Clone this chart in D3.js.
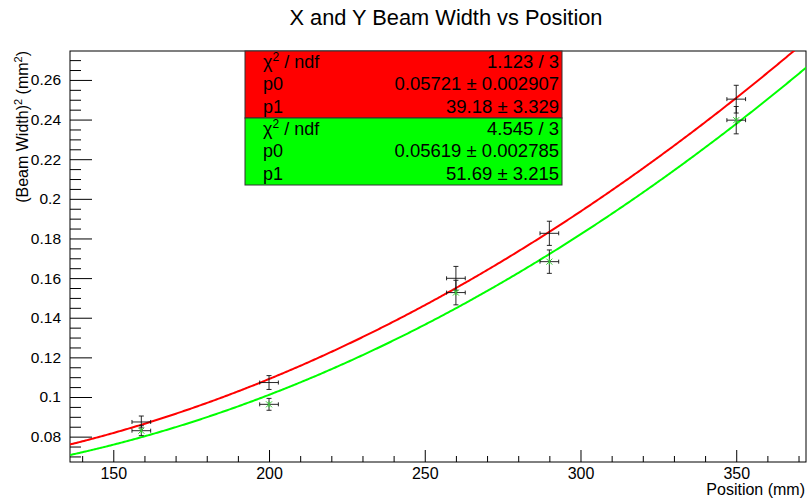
<!DOCTYPE html>
<html>
<head>
<meta charset="utf-8">
<script src="https://cdn.jsdelivr.net/npm/d3@7/dist/d3.min.js"></script>
<style>
  html, body { margin: 0; padding: 0; background: #fff; }
  svg { display: block; font-family: "Liberation Sans", Arial, Helvetica, sans-serif; }
</style>
</head>
<body>
<svg id="chart" width="808" height="504"></svg>
<script>
// Measured beam width squared (mm^2) at each position (mm), X and Y planes
const positions = [159, 200, 260, 290, 350];
const posErr = [3, 3, 3, 3, 3];
const widthSqX = [0.0874, 0.1073, 0.1599, 0.1826, 0.2503];
const widthSqXErr = [0.0030, 0.0035, 0.0060, 0.0061, 0.0070];
const widthSqY = [0.0830, 0.0963, 0.1527, 0.1683, 0.2397];
const widthSqYErr = [0.0025, 0.0030, 0.0062, 0.0059, 0.0069];

// Gaussian beam fit results: p0 = w0^2, p1 = waist position
const fitNames = ["X", "Y"];
const fitP0 = [0.05721, 0.05619];
const fitP0Err = [0.002907, 0.002785];
const fitP1 = [39.18, 51.69];
const fitP1Err = [3.329, 3.215];
const fitChi2 = [1.123, 4.545];
const fitNdf = [3, 3];
const wavelength = 1.064e-3; // mm

// Axis ticks
const xTicks = [150, 200, 250, 300, 350];
const yTicks = [0.08, 0.1, 0.12, 0.14, 0.16, 0.18, 0.2, 0.22, 0.24, 0.26];
const xDomain = [136.1, 372.4];
const yDomain = [0.0672, 0.2746];

const colors = ["#ff0000", "#00ff00"];

const svg = d3.select("#chart");
const frame = { left: 70, right: 806, top: 51, bottom: 462 };

const x = d3.scaleLinear().domain(xDomain).range([frame.left, frame.right]);
const y = d3.scaleLinear().domain(yDomain).range([frame.bottom, frame.top]);

// Title
svg.append("text")
  .attr("x", 446).attr("y", 25)
  .attr("text-anchor", "middle")
  .attr("font-size", 21.8)
  .text("X and Y Beam Width vs Position");

// Frame
svg.append("rect")
  .attr("x", frame.left).attr("y", frame.top)
  .attr("width", frame.right - frame.left)
  .attr("height", frame.bottom - frame.top)
  .attr("fill", "none").attr("stroke", "#000").attr("stroke-width", 1);

// Y axis: majors, minors
const yMinor = d3.range(13, 56).map(i => +(i * 0.005).toFixed(3))
  .filter(v => v >= yDomain[0] && v <= yDomain[1] && !yTicks.some(t => Math.abs(t - v) < 1e-9));
const yAxisG = svg.append("g").attr("transform", `translate(${frame.left},0)`);
yAxisG.call(d3.axisLeft(y).tickValues(yTicks).tickSizeInner(-22).tickSizeOuter(0)
  .tickPadding(9).tickFormat(d => String(d)));
yAxisG.append("g").call(d3.axisLeft(y).tickValues(yMinor).tickSizeInner(-11).tickSizeOuter(0)
  .tickFormat(""));
yAxisG.selectAll(".domain").remove();
yAxisG.selectAll("text").attr("font-size", 15.5).attr("fill", "#000")
  .attr("font-family", "Liberation Sans, Arial, sans-serif");
yAxisG.selectAll("line").attr("stroke", "#000");

// X axis: majors, minors
const xMinor = d3.range(14, 38).map(i => i * 10)
  .filter(v => v >= xDomain[0] && v <= xDomain[1] && !xTicks.includes(v));
const xAxisG = svg.append("g").attr("transform", `translate(0,${frame.bottom})`);
xAxisG.call(d3.axisBottom(x).tickValues(xTicks).tickSizeInner(-12).tickSizeOuter(0)
  .tickPadding(6).tickFormat(d => String(d)));
xAxisG.append("g").call(d3.axisBottom(x).tickValues(xMinor).tickSizeInner(-6).tickSizeOuter(0)
  .tickFormat(""));
xAxisG.selectAll(".domain").remove();
xAxisG.selectAll("text").attr("font-size", 16).attr("fill", "#000")
  .attr("font-family", "Liberation Sans, Arial, sans-serif");
xAxisG.selectAll("line").attr("stroke", "#000");

// Axis titles
svg.append("text")
  .attr("x", 805).attr("y", 495)
  .attr("text-anchor", "end")
  .attr("font-size", 16)
  .text("Position (mm)");

const yTitle = svg.append("text")
  .attr("transform", "translate(28,51) rotate(-90)")
  .attr("text-anchor", "end")
  .attr("font-size", 16);
yTitle.append("tspan").text("(Beam Width)");
yTitle.append("tspan").attr("font-size", 11).attr("dy", -6).text("2");
yTitle.append("tspan").attr("dy", 6).text(" (mm");
yTitle.append("tspan").attr("font-size", 11).attr("dy", -6).text("2");
yTitle.append("tspan").attr("dy", 6).text(")");

// Clip region for the plot contents
svg.append("clipPath").attr("id", "plotClip")
  .append("rect")
  .attr("x", frame.left).attr("y", frame.top)
  .attr("width", frame.right - frame.left)
  .attr("height", frame.bottom - frame.top);

const plot = svg.append("g").attr("clip-path", "url(#plotClip)");

// Fit curves: w^2(z) = p0 * (1 + ((z - p1) * lambda / (pi * p0))^2)
const samples = d3.range(xDomain[0], xDomain[1] + 0.5, 0.5);
const line = d3.line().x(d => x(d[0])).y(d => y(d[1]));
fitNames.forEach((name, i) => {
  const p0 = fitP0[i], p1 = fitP1[i];
  const zR = Math.PI * p0 / wavelength;
  const pts = samples.map(z => [z, p0 * (1 + Math.pow((z - p1) / zR, 2))]);
  plot.append("path")
    .datum(pts)
    .attr("d", line)
    .attr("fill", "none")
    .attr("stroke", colors[i])
    .attr("stroke-width", 2);
});

// Error bars with end caps
function drawErrors(vals, errs, markerColor) {
  const g = plot.append("g").attr("stroke", "#111").attr("stroke-width", 1).attr("stroke-opacity", 0.9);
  positions.forEach((p, i) => {
    const cx = x(p), cy = y(vals[i]);
    const x0 = x(p - posErr[i]), x1 = x(p + posErr[i]);
    const y0 = y(vals[i] - errs[i]), y1 = y(vals[i] + errs[i]);
    g.append("line").attr("x1", x0).attr("x2", x1).attr("y1", cy).attr("y2", cy);
    g.append("line").attr("x1", cx).attr("x2", cx).attr("y1", y0).attr("y2", y1);
    g.append("line").attr("x1", x0).attr("x2", x0).attr("y1", cy - 2).attr("y2", cy + 2);
    g.append("line").attr("x1", x1).attr("x2", x1).attr("y1", cy - 2).attr("y2", cy + 2);
    g.append("line").attr("x1", cx - 2.5).attr("x2", cx + 2.5).attr("y1", y0).attr("y2", y0);
    g.append("line").attr("x1", cx - 2.5).attr("x2", cx + 2.5).attr("y1", y1).attr("y2", y1);
    if (markerColor) {
      const m = plot.append("g").attr("stroke", markerColor).attr("stroke-width", 1);
      const r = 3;
      m.append("line").attr("x1", cx - r).attr("x2", cx + r).attr("y1", cy - r).attr("y2", cy + r);
      m.append("line").attr("x1", cx - r).attr("x2", cx + r).attr("y1", cy + r).attr("y2", cy - r);
      m.append("line").attr("x1", cx).attr("x2", cx).attr("y1", cy - r).attr("y2", cy + r);
    }
  });
}
drawErrors(widthSqX, widthSqXErr, null);
drawErrors(widthSqY, widthSqYErr, "#33cc33");

// Fit statistics boxes
const box = { left: 245, right: 562, top: 51, height: 67 };
fitNames.forEach((name, i) => {
  const top = box.top + i * box.height;
  const g = svg.append("g");
  g.append("rect")
    .attr("x", box.left).attr("y", top)
    .attr("width", box.right - box.left).attr("height", box.height)
    .attr("fill", colors[i]).attr("stroke", "#333").attr("stroke-width", 1);
  const rows = [
    ["chi", `${fitChi2[i].toFixed(3)} / ${fitNdf[i]}`],
    ["p0", `${fitP0[i]} \u00b1 ${fitP0Err[i]}`],
    ["p1", `${fitP1[i]} \u00b1 ${fitP1Err[i]}`]
  ];
  rows.forEach((r, j) => {
    const by = top + 17 + j * 22.3;
    const lab = g.append("text").attr("x", 263).attr("y", by).attr("font-size", 18);
    if (r[0] === "chi") {
      lab.append("tspan").text("\u03c7");
      lab.append("tspan").attr("font-size", 12).attr("dy", -7).text("2");
      lab.append("tspan").attr("dy", 7).text(" / ndf");
    } else {
      lab.text(r[0]);
    }
    g.append("text").attr("x", 559).attr("y", by)
      .attr("text-anchor", "end").attr("font-size", 18.5)
      .text(r[1]);
  });
});
</script>
</body>
</html>
